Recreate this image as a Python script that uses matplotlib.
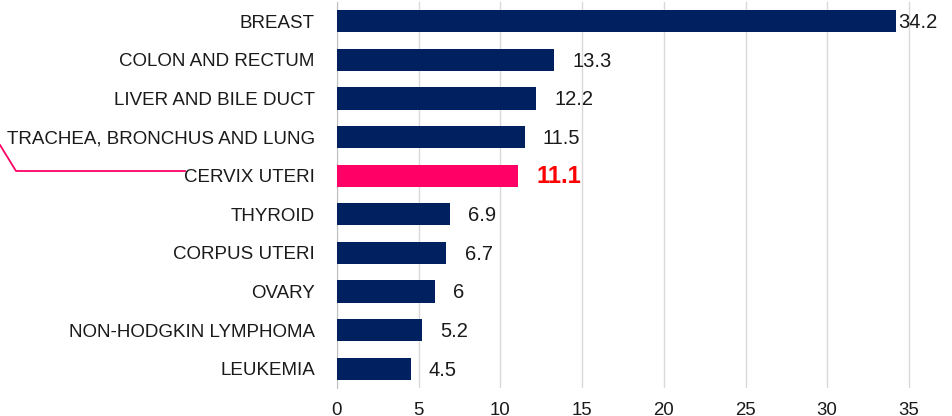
import numpy as np
import matplotlib.pyplot as plt
from matplotlib.lines import Line2D

plt.rcParams['font.family'] = ['Liberation Sans', 'DejaVu Sans']

sites = ['BREAST', 'COLON AND RECTUM', 'LIVER AND BILE DUCT',
         'TRACHEA, BRONCHUS AND LUNG', 'CERVIX UTERI', 'THYROID',
         'CORPUS UTERI', 'OVARY', 'NON-HODGKIN LYMPHOMA', 'LEUKEMIA']
values = [34.2, 13.3, 12.2, 11.5, 11.1, 6.9, 6.7, 6, 5.2, 4.5]
highlight = 'CERVIX UTERI'
xticks = [0, 5, 10, 15, 20, 25, 30, 35]

navy = '#002060'
pink = '#ff0066'

fig = plt.figure(figsize=(9.52, 4.16), dpi=100)
ax = fig.add_axes([337/952, 28/416, 615/952, 386/416])

y = np.arange(len(sites))
colors = [pink if s == highlight else navy for s in sites]
ax.barh(y, values, height=0.57, color=colors, zorder=3)

ax.set_ylim(len(sites) - 0.5, -0.5)
ax.set_xlim(0, 615/16.34)
ax.set_yticks(y)
ax.set_yticklabels(sites, fontsize=13.5, color='#1a1a1a')
ax.set_xticks(xticks)
ax.set_xticklabels([str(t) for t in xticks], fontsize=13.4, color='#1a1a1a')
ax.tick_params(axis='both', length=0)
ax.tick_params(axis='y', pad=16)
ax.tick_params(axis='x', pad=10)
ax.grid(axis='x', color='#d9d9d9', linewidth=1, zorder=0)
for side in ['top', 'right', 'bottom']:
    ax.spines[side].set_visible(False)
ax.spines['left'].set_color('#bfbfbf')

for yi, s, v in zip(y, sites, values):
    off = 13
    if v > 33:
        off = 2
    if s == highlight:
        ax.annotate(f'{v:g}', (v, yi), xytext=(off, -0.5), textcoords='offset points',
                    va='center', ha='left', fontsize=17, fontweight='bold', color='#ff0000')
    else:
        ax.annotate(f'{v:g}', (v, yi), xytext=(off, -1), textcoords='offset points',
                    va='center', ha='left', fontsize=14.5, color='#1a1a1a')

# connector line on the left
fig.add_artist(Line2D([0/952, 16/952, 185/952], [1 - 145/416, 1 - 171/416, 1 - 171/416],
                      color=pink, linewidth=1.3, transform=fig.transFigure))

fig.savefig('out.png', dpi=100)
